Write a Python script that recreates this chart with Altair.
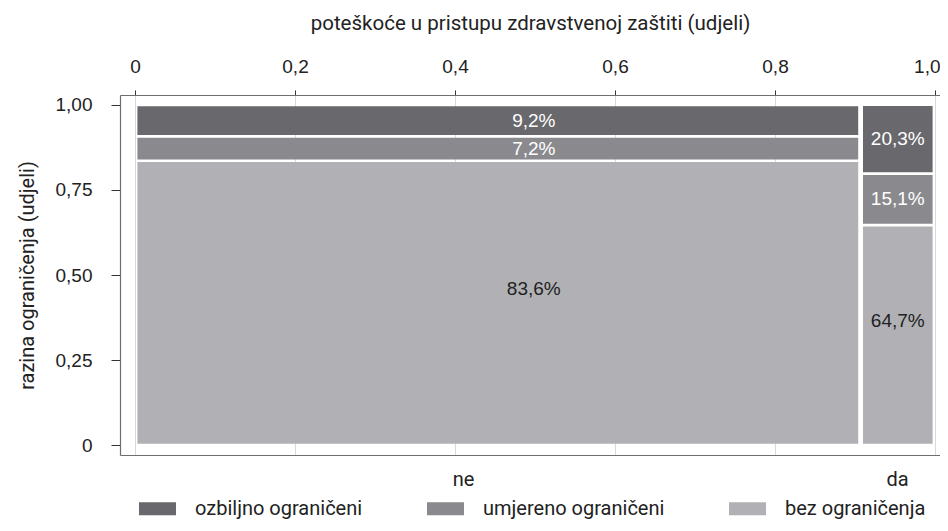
import altair as alt
import pandas as pd

# ---- data ----
columns = ["ne", "da"]
column_share = [0.907, 0.093]
levels = ["ozbiljno ograničeni", "umjereno ograničeni", "bez ograničenja"]
pct_ne = [9.2, 7.2, 83.6]
pct_da = [20.3, 15.1, 64.7]
level_colors = ["#69696d", "#8a8a8e", "#b1b1b5"]
x_ticks = [0, 0.2, 0.4, 0.6, 0.8, 1.0]
y_ticks = [0, 0.25, 0.5, 0.75, 1.0]
bottom_tick_pos = [0.41, 0.9525]
bottom_tick_labels = columns

gap_x = 0.006
gap_y = 0.008

rows = []
cx = 0.0
for col, share, pcts in zip(columns, column_share, [pct_ne, pct_da]):
    cy = 0.0
    for lvl, p in reversed(list(zip(levels, pcts))):
        h = p / 100.0
        x0, x1 = cx + gap_x / 2, cx + share - gap_x / 2
        y0, y1 = cy + gap_y / 2, cy + h - gap_y / 2
        lx = (x0 + x1) / 2 + (0.045 if col == "ne" else 0.0)
        ly = (y0 + y1) / 2 + (0.042 if lvl == "bez ograničenja" else 0.0)
        rows.append(dict(column=col, level=lvl, x0=x0, x1=x1, y0=y0, y1=y1,
                         lx=lx, ly=ly,
                         label=f"{p:.1f}".replace(".", ",") + "%",
                         tcolor="#222222" if lvl == "bez ograničenja" else "#ffffff"))
        cy += h
    cx += share

df = pd.DataFrame(rows)
bottom_df = pd.DataFrame({"pos": bottom_tick_pos, "name": bottom_tick_labels})

TXT = "Roboto, sans-serif"
NUM = "Liberation Sans, Arial, sans-serif"
FRAME = "#6e6e6e"

xs = alt.Scale(domain=[-0.01875, 1.00625], nice=False, zero=False)
ys = alt.Scale(domain=[-0.0294, 1.0294], nice=False, zero=False)

top_axis = alt.Axis(
    orient="top", values=x_ticks, grid=True, gridColor="#d9d9d9", gridWidth=1,
    domain=True, domainColor=FRAME, domainWidth=1.2,
    tickSize=5, tickColor="#333333",
    labelExpr="datum.value == 0 ? '0' : replace(format(datum.value, '.1f'), '.', ',')",
    labelAlign=alt.condition("datum.value >= 1", alt.value("right"), alt.value("center")),
    labelOffset=alt.condition("datum.value >= 1", alt.value(5), alt.value(0)),
    labelFont=NUM, labelFontSize=19, labelColor="#222222", labelPadding=14,
    title="poteškoće u pristupu zdravstvenoj zaštiti (udjeli)",
    titleFont=TXT, titleFontSize=20.5, titleFontWeight="normal", titleColor="#222222",
    titlePadding=24,
)
y_axis = alt.Axis(
    orient="left", values=y_ticks, grid=False,
    domain=True, domainColor=FRAME, domainWidth=1.2,
    tickSize=9, tickColor="#333333",
    labelExpr="datum.value == 0 ? '0' : replace(format(datum.value, '.2f'), '.', ',')",
    labelFont=NUM, labelFontSize=19, labelColor="#222222", labelPadding=19,
    title="razina ograničenja (udjeli)",
    titleFont=TXT, titleFontSize=20, titleFontWeight="normal", titleColor="#222222",
    titlePadding=18,
)
bottom_axis = alt.Axis(
    orient="bottom", values=bottom_tick_pos, grid=False,
    domain=True, domainColor=FRAME, domainWidth=1.2, ticks=False,
    labelExpr="datum.value < 0.5 ? 'ne' : 'da'",
    labelFont=TXT, labelFontSize=20, labelColor="#222222", labelPadding=14,
    title=None,
)

rects = alt.Chart(df).mark_rect().encode(
    x=alt.X("x0:Q", scale=xs, axis=top_axis),
    x2="x1:Q",
    y=alt.Y("y0:Q", scale=ys, axis=y_axis),
    y2="y1:Q",
    color=alt.Color(
        "level:N",
        scale=alt.Scale(domain=levels, range=level_colors),
        legend=alt.Legend(
            orient="none", legendX=19, legendY=395, direction="horizontal",
            columns=3, title=None,
            symbolType="M-1,-0.35L1,-0.35L1,0.35L-1,0.35Z", symbolSize=1369,
            symbolStrokeWidth=0, symbolOpacity=1,
            labelFont=TXT, labelFontSize=20, labelColor="#222222", labelLimit=400,
            labelOffset=19, columnPadding=64, padding=0,
        ),
    ),
)

labels = alt.Chart(df).mark_text(font=NUM, fontSize=19).encode(
    x=alt.X("lx:Q", scale=xs, axis=None),
    y=alt.Y("ly:Q", scale=ys, axis=y_axis),
    text="label:N",
    color=alt.Color("tcolor:N", scale=None),
)

bottom = alt.Chart(bottom_df).mark_point(opacity=0).encode(
    x=alt.X("pos:Q", scale=xs, axis=bottom_axis),
)

chart = alt.layer(rects, labels, bottom).resolve_axis(x="independent").properties(
    width=820, height=360, autosize="none",
    padding={"left": 112, "top": 87, "right": 0, "bottom": 70},
).configure_view(stroke=None)

chart.save("out.html", embed_options={"renderer": "svg", "actions": False})
